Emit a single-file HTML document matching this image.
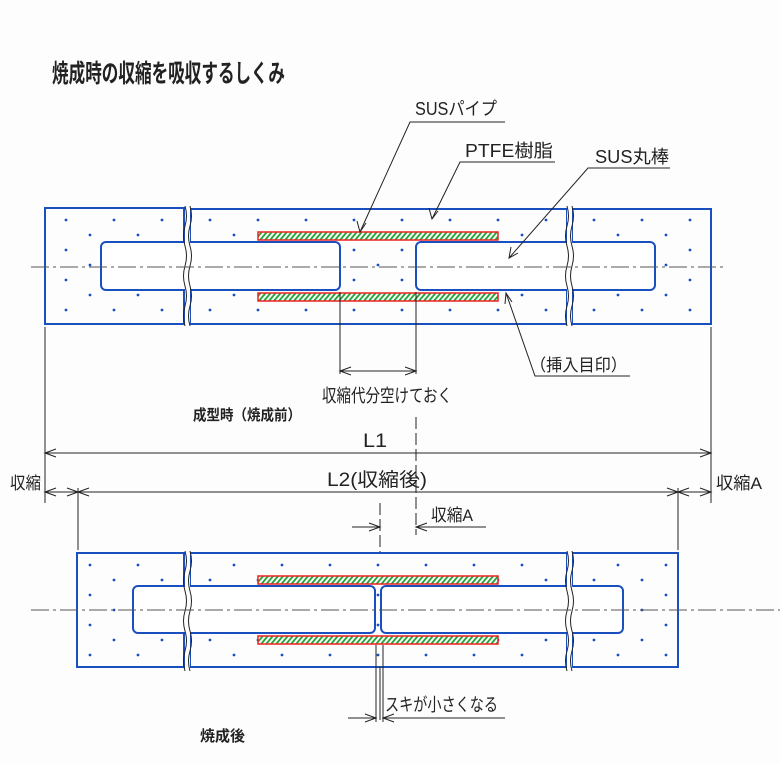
<!DOCTYPE html>
<html><head><meta charset="utf-8"><style>html,body{margin:0;padding:0;background:#fdfdfd}svg{display:block}</style></head>
<body>
<svg width="780" height="764" viewBox="0 0 780 764" xmlns="http://www.w3.org/2000/svg" font-family="'Liberation Sans','Noto Sans CJK JP',sans-serif">
<defs>
<pattern id="dots" width="48" height="30" patternUnits="userSpaceOnUse" x="10" y="4">
<circle cx="8" cy="6" r="1.4" fill="#1a4fc0"/><circle cx="32" cy="21" r="1.4" fill="#1a4fc0"/>
</pattern>
<pattern id="hatch" width="5" height="8" patternUnits="userSpaceOnUse" patternTransform="skewX(-40)">
<rect width="5" height="8" fill="#fff"/><line x1="1.5" y1="0" x2="1.5" y2="8" stroke="#1fa235" stroke-width="2.4"/>
</pattern>
</defs>

<!-- TOP DIAGRAM -->
<g>
<rect x="45" y="208" width="139" height="116" fill="url(#dots)" stroke="#1a4fc0" stroke-width="2"/>
<rect x="190" y="209" width="377" height="115" fill="url(#dots)" stroke="#1a4fc0" stroke-width="2"/>
<rect x="572" y="209" width="139" height="115" fill="url(#dots)" stroke="#1a4fc0" stroke-width="2"/>
<rect x="258" y="232" width="240" height="8" fill="url(#hatch)" stroke="#e22" stroke-width="1.5"/>
<rect x="258" y="293" width="240" height="8" fill="url(#hatch)" stroke="#e22" stroke-width="1.5"/>
<rect x="101" y="242" width="239" height="48" rx="5" fill="#fff" stroke="#1a4fc0" stroke-width="2"/>
<rect x="416" y="242" width="239" height="48" rx="5" fill="#fff" stroke="#1a4fc0" stroke-width="2"/>
<g fill="#fdfdfd" stroke="none"><rect x="185" y="205" width="5" height="122"/><rect x="567" y="205" width="5" height="122"/></g>
<g stroke="#222" stroke-width="1" fill="none">
<path d="M185,206 q3,10 0,20 q-3,10 0,20 q3,10 0,20 q-3,10 0,20 q3,10 0,20 q-3,10 0,20"/>
<path d="M190,206 q3,10 0,20 q-3,10 0,20 q3,10 0,20 q-3,10 0,20 q3,10 0,20 q-3,10 0,20"/>
<path d="M567,206 q3,10 0,20 q-3,10 0,20 q3,10 0,20 q-3,10 0,20 q3,10 0,20 q-3,10 0,20"/>
<path d="M572,206 q3,10 0,20 q-3,10 0,20 q3,10 0,20 q-3,10 0,20 q3,10 0,20 q-3,10 0,20"/>
</g>
<line x1="31" y1="267" x2="727" y2="267" stroke="#555" stroke-width="1" stroke-dasharray="18,4,3,4"/>
</g>

<!-- BOTTOM DIAGRAM -->
<g>
<rect x="77" y="553" width="107" height="114" fill="url(#dots)" stroke="#1a4fc0" stroke-width="2"/>
<rect x="190" y="553" width="377" height="114" fill="url(#dots)" stroke="#1a4fc0" stroke-width="2"/>
<rect x="572" y="553" width="106" height="114" fill="url(#dots)" stroke="#1a4fc0" stroke-width="2"/>
<rect x="258" y="576" width="240" height="8" fill="url(#hatch)" stroke="#e22" stroke-width="1.5"/>
<rect x="258" y="636" width="240" height="8" fill="url(#hatch)" stroke="#e22" stroke-width="1.5"/>
<rect x="133" y="586" width="242" height="47" rx="5" fill="#fff" stroke="#1a4fc0" stroke-width="2"/>
<rect x="381" y="586" width="242" height="47" rx="5" fill="#fff" stroke="#1a4fc0" stroke-width="2"/>
<g fill="#fdfdfd" stroke="none"><rect x="185" y="550" width="5" height="120"/><rect x="567" y="550" width="5" height="120"/></g>
<g stroke="#222" stroke-width="1" fill="none">
<path d="M185,551 q3,10 0,20 q-3,10 0,20 q3,10 0,20 q-3,10 0,20 q3,10 0,20 q-3,10 0,20"/>
<path d="M190,551 q3,10 0,20 q-3,10 0,20 q3,10 0,20 q-3,10 0,20 q3,10 0,20 q-3,10 0,20"/>
<path d="M567,551 q3,10 0,20 q-3,10 0,20 q3,10 0,20 q-3,10 0,20 q3,10 0,20 q-3,10 0,20"/>
<path d="M572,551 q3,10 0,20 q-3,10 0,20 q3,10 0,20 q-3,10 0,20 q3,10 0,20 q-3,10 0,20"/>
</g>
<line x1="31" y1="610" x2="780" y2="610" stroke="#555" stroke-width="1" stroke-dasharray="18,4,3,4"/>
</g>

<!-- DIMENSIONS / LEADERS -->
<g stroke="#222" stroke-width="1" fill="none">
<line x1="45" y1="327" x2="45" y2="503"/>
<line x1="711" y1="327" x2="711" y2="503"/>
<line x1="78" y1="488" x2="78" y2="550"/>
<line x1="678" y1="488" x2="678" y2="550"/>
<line x1="45" y1="453" x2="711" y2="453"/>
<path d="M56,449 L45,453 L56,457 M700,449 L711,453 L700,457"/>
<line x1="78" y1="492" x2="678" y2="492"/>
<path d="M89,488 L78,492 L89,496 M667,488 L678,492 L667,496"/>
<line x1="45" y1="492" x2="78" y2="492"/>
<path d="M56,488 L45,492 L56,496 M67,488 L78,492 L67,496"/>
<line x1="678" y1="492" x2="711" y2="492"/>
<path d="M689,488 L678,492 L689,496 M700,488 L711,492 L700,496"/>
<line x1="340" y1="292" x2="340" y2="374"/>
<line x1="416" y1="292" x2="416" y2="374"/>
<line x1="340" y1="371" x2="416" y2="371"/>
<path d="M351,367 L340,371 L351,375 M405,367 L416,371 L405,375"/>
<line x1="416" y1="417" x2="416" y2="535" stroke-dasharray="12,4"/>
<line x1="380" y1="503" x2="380" y2="552" stroke-dasharray="12,4"/>
<line x1="380" y1="667" x2="380" y2="720"/>
<line x1="376" y1="645" x2="376" y2="722"/>
<line x1="383" y1="645" x2="383" y2="722"/>
<line x1="352" y1="527" x2="380" y2="527"/><path d="M369,523 L380,527 L369,531"/>
<line x1="416" y1="527" x2="486" y2="527"/><path d="M427,523 L416,527 L427,531"/>
<line x1="348" y1="718" x2="376" y2="718"/><path d="M365,714 L376,718 L365,722"/>
<line x1="383" y1="718" x2="505" y2="718"/><path d="M394,714 L383,718 L394,722"/>
<path d="M505,122 L410,122 L360,232"/><path d="M357,221 L360,232 L366,223"/>
<path d="M555,162 L460,162 L432,219"/><path d="M429,208 L432,219 L438,211"/>
<path d="M670,168 L588,168 L509,258"/><path d="M511,247 L509,258 L518,253"/>
<path d="M630,376 L535,376 L506,293"/><path d="M505,304 L506,293 L512,302"/>
</g>

<!-- TEXT -->
<g fill="#222">
<text x="52" y="82" font-size="25" font-weight="bold" textLength="233" lengthAdjust="spacingAndGlyphs">焼成時の収縮を吸収するしくみ</text>
<text x="415" y="115" font-size="18" textLength="82" lengthAdjust="spacingAndGlyphs">SUSパイプ</text>
<text x="465" y="157" font-size="18" textLength="88" lengthAdjust="spacingAndGlyphs">PTFE樹脂</text>
<text x="595" y="163" font-size="18" textLength="74" lengthAdjust="spacingAndGlyphs">SUS丸棒</text>
<text x="530" y="371" font-size="17" textLength="97" lengthAdjust="spacingAndGlyphs">（挿入目印）</text>
<text x="322" y="402" font-size="18" textLength="130" lengthAdjust="spacingAndGlyphs">収縮代分空けておく</text>
<text x="193" y="420" font-size="15" font-weight="bold" textLength="108" lengthAdjust="spacingAndGlyphs">成型時（焼成前）</text>
<text x="363" y="447" font-size="19" textLength="24" lengthAdjust="spacingAndGlyphs">L1</text>
<text x="327" y="486" font-size="19" textLength="100" lengthAdjust="spacingAndGlyphs">L2(収縮後)</text>
<text x="10" y="489" font-size="17" textLength="31" lengthAdjust="spacingAndGlyphs">収縮</text>
<text x="716" y="489" font-size="17" textLength="46" lengthAdjust="spacingAndGlyphs">収縮A</text>
<text x="431" y="521" font-size="17" textLength="42" lengthAdjust="spacingAndGlyphs">収縮A</text>
<text x="385" y="711" font-size="18" textLength="113" lengthAdjust="spacingAndGlyphs">スキが小さくなる</text>
<text x="200" y="741" font-size="15" font-weight="bold" textLength="45" lengthAdjust="spacingAndGlyphs">焼成後</text>
</g>
</svg>
</body></html>
